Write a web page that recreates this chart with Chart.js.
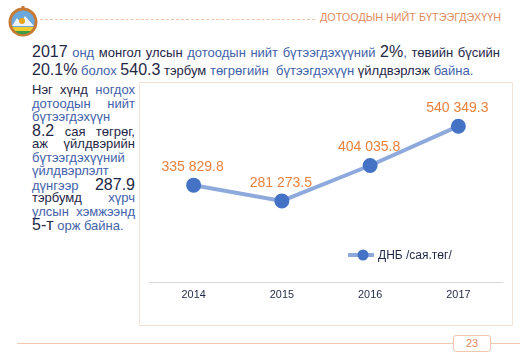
<!DOCTYPE html>
<html>
<head>
<meta charset="utf-8">
<script src="https://cdn.jsdelivr.net/npm/chart.js@4"></script>
<style>
  html, body { margin: 0; padding: 0; background: #fff; }
  body { width: 520px; height: 360px; position: relative; overflow: hidden; font-family: "Liberation Sans", Arial, sans-serif; }
  .abs { position: absolute; }
  .dk { color: #1f2746; }
  .bl { color: #4262aa; }
  .big { font-size: 16px; }
  .title { left: 320px; top: 11px; font-size: 10.8px; color: #e08b5e; white-space: nowrap; }
  .dash { left: 40px; top: 19px; width: 275px; border-top: 1px dashed #f0c4a8; }
  .intro { left: 32px; top: 43px; width: 468px; font-size: 13px; line-height: 18px; }
  .intro div { white-space: nowrap; height: 18px; }
  .intro .j { text-align: justify; text-align-last: justify; }
  .side { left: 32px; top: 83px; width: 103px; font-size: 13px; line-height: 13.5px; }
  .side div { text-align: justify; text-align-last: justify; white-space: nowrap; height: 13.5px; }
  .side div.last { text-align-last: left; }
  .side .big { line-height: 13.5px; }
  .box { left: 139px; top: 82px; width: 372px; height: 242px; border: 1px solid #f2e4d8; }
  .foot { top: 343px; border-top: 1px solid #f0c8b0; }
  .page { left: 453px; top: 335px; width: 36px; height: 15px; border: 1px solid #f0c8b0; border-radius: 3px; font-size: 11px; color: #e0885a; text-align: center; line-height: 15px; }
</style>
</head>
<body>
<svg class="abs" style="left:6px;top:4px" width="34" height="34" viewBox="0 0 34 34">
  <circle cx="17" cy="18" r="14.5" fill="#c77a34"/>
  <circle cx="17" cy="18" r="11.5" fill="#6aa7dc"/>
  <path d="M6 22 L11 14 L15 19 L19 12 L28 22 Z" fill="#eef3f7"/>
  <path d="M6.5 23 L27.5 23 A11.5 11.5 0 0 1 6.5 23 Z" fill="#f2cc2e"/>
  <path d="M9 27 L25 27 A11.5 11.5 0 0 1 9 27 Z" fill="#3f9a45"/>
  <circle cx="16" cy="17" r="3" fill="#e8a21c"/>
  <rect x="15.5" y="2" width="3" height="3" fill="#c77a34"/>
</svg>
<div class="abs dash"></div>
<div class="abs title">ДОТООДЫН НИЙТ БҮТЭЭГДЭХҮҮН</div>

<div class="abs intro">
  <div class="j"><span class="dk big">2017</span> <span class="bl">онд</span> <span class="dk">монгол улсын</span> <span class="bl">дотоодын нийт бүтээгдэхүүний</span> <span class="dk big">2%</span><span class="bl">,</span> <span class="dk">төвийн бүсийн</span></div>
  <div><span class="dk big">20.1%</span> <span class="bl">болох</span> <span class="dk big">540.3</span> <span class="dk">тэрбум</span> <span class="bl">төгрөгийн&nbsp; бүтээгдэхүүн</span> <span class="dk">үйлдвэрлэж</span> <span class="bl">байна.</span></div>
</div>

<div class="abs side">
  <div><span class="dk">Нэг хүнд</span> <span class="bl">ногдох</span></div>
  <div><span class="bl">дотоодын нийт</span></div>
  <div class="last"><span class="bl">бүтээгдэхүүн</span></div>
  <div><span class="dk big">8.2</span> <span class="dk">сая төгрөг,</span></div>
  <div><span class="dk">аж үйлдвэрийн</span></div>
  <div class="last"><span class="bl">бүтээгдэхүүний</span></div>
  <div class="last"><span class="bl">үйлдвэрлэлт</span></div>
  <div><span class="bl">дүнгээр</span> <span class="dk big">287.9</span></div>
  <div><span class="dk">тэрбумд</span> <span class="bl">хүрч</span></div>
  <div><span class="bl">улсын хэмжээнд</span></div>
  <div class="last"><span class="dk big">5-т</span> <span class="bl">орж байна.</span></div>
</div>

<div class="abs box"><canvas id="gdpChart" width="372" height="242"></canvas></div>

<div class="abs foot" style="left:17px;width:436px"></div>
<div class="abs page">23</div>
<div class="abs foot" style="left:491px;width:29px"></div>

<script>
// chart data
const years = ['2014', '2015', '2016', '2017'];
const gdp = [335829.8, 281273.5, 404035.8, 540349.3];
const seriesName = 'ДНБ /сая.төг/';

const lineColor = '#8eaadc';
const pointColor = '#4472c4';
const labelColor = '#e8823e';
const textColor = '#1f2746';

// "335829.8" -> "335 829.8"
function fmt(v) {
    const parts = v.toFixed(1).split('.');
    return parts[0].replace(/\B(?=(\d{3})+(?!\d))/g, ' ') + '.' + parts[1];
}

// value labels above points + legend inside the plot
const labelsPlugin = {
    id: 'valueLabels',
    afterDatasetsDraw(chart) {
        const ctx = chart.ctx;
        const meta = chart.getDatasetMeta(0);
        ctx.save();
        ctx.font = '14px "Liberation Sans", Arial, sans-serif';
        ctx.fillStyle = labelColor;
        ctx.textAlign = 'center';
        ctx.textBaseline = 'middle';
        meta.data.forEach((pt, i) => {
            ctx.fillText(fmt(gdp[i]), pt.x - 1, pt.y - 18);
        });

        // legend
        const lx = 208, ly = 172;
        ctx.strokeStyle = lineColor;
        ctx.lineWidth = 4;
        ctx.beginPath();
        ctx.moveTo(lx, ly);
        ctx.lineTo(lx + 26, ly);
        ctx.stroke();
        ctx.fillStyle = pointColor;
        ctx.beginPath();
        ctx.arc(lx + 15, ly, 5.5, 0, Math.PI * 2);
        ctx.fill();
        ctx.fillStyle = textColor;
        ctx.font = '12px "Liberation Sans", Arial, sans-serif';
        ctx.textAlign = 'left';
        ctx.fillText(seriesName, lx + 30, ly + 1);
        ctx.restore();
    }
};

const ctx = document.getElementById('gdpChart').getContext('2d');
new Chart(ctx, {
    type: 'line',
    data: {
        labels: years,
        datasets: [{
            label: seriesName,
            data: gdp,
            borderColor: lineColor,
            borderWidth: 4,
            pointBackgroundColor: pointColor,
            pointBorderColor: pointColor,
            pointRadius: 5.5,
            tension: 0,
            fill: false
        }]
    },
    options: {
        responsive: false,
        animation: false,
        layout: { padding: { left: 8, right: 7, top: 26, bottom: 13 } },
        plugins: {
            legend: { display: false },
            tooltip: { enabled: false }
        },
        scales: {
            x: {
                offset: true,
                grid: { display: false, drawTicks: false },
                border: { display: true, color: '#d9d9d9', width: 1 },
                ticks: {
                    padding: 7,
                    color: textColor,
                    font: { family: '"Liberation Sans", Arial, sans-serif', size: 10.8 }
                },
                afterFit(scale) { scale.height = 30; }
            },
            y: {
                display: false,
                min: 0,
                max: 600000
            }
        }
    },
    plugins: [labelsPlugin]
});
</script>
</body>
</html>
